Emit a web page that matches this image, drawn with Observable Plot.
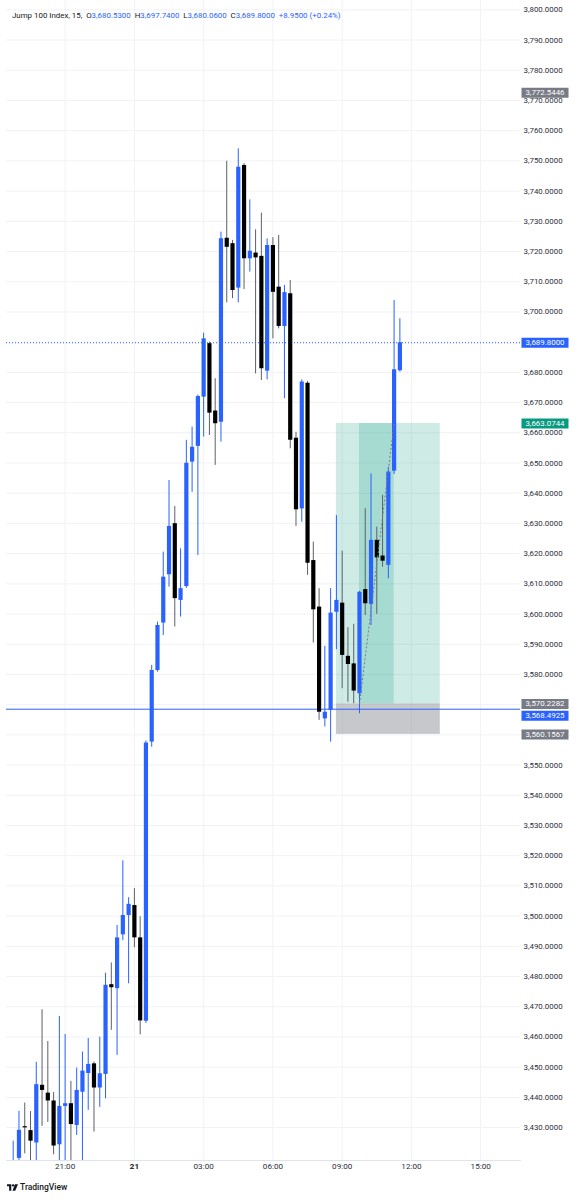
<!DOCTYPE html>
<html>
<head>
<meta charset="utf-8">
<script src="https://cdn.jsdelivr.net/npm/d3@7"></script>
<script src="https://cdn.jsdelivr.net/npm/@observablehq/plot@0.6"></script>
<style>
  body { margin: 0; background: #fff; font-family: Roboto, "Noto Sans", sans-serif; }
  #wrap { position: relative; width: 578px; height: 1200px; overflow: hidden; }
  #hdr { position: absolute; left: 12px; top: 11px; font: 7.9px Roboto, sans-serif; color: #131722; white-space: nowrap; letter-spacing: 0; }
  #hdr .v { color: #2962ff; }
  #logo { position: absolute; left: 7px; top: 1182px; font: 500 8.5px Roboto, sans-serif; color: #131722; display: flex; align-items: center; gap: 2px; }
</style>
</head>
<body>
<div id="wrap">
  <div id="chart"></div>
  <div id="hdr"></div>
  <div id="logo"><svg width="11" height="7" viewBox="0 0 36 22"><path d="M0 0h14v22H7V7H0z" fill="#131722"/><circle cx="20" cy="4" r="4" fill="#131722"/><path d="M26 0h10l-9 22h-9z" fill="#131722"/></svg><span>TradingView</span></div>
</div>
<script>
// ---- data ----
const symbolName = "Jump 100 Index";
const timeframe = "15";
const firstBar = "2024-01-20T18:45Z";   // 15-minute bars
const opens = [3412.0,3419.8,3430.3,3429.0,3424.9,3444.0,3441.4,3438.8,3424.3,3437.0,
  3437.9,3430.7,3441.7,3447.9,3451.1,3443.1,3447.6,3477.3,3476.0,3493.8,
  3500.2,3503.5,3492.8,3465.2,3557.6,3581.3,3597.0,3613.0,3629.9,3604.5,
  3609.1,3650.3,3655.5,3671.8,3689.5,3667.2,3663.5,3724.4,3722.6,3707.9,
  3748.5,3717.6,3719.5,3718.4,3680.4,3722.0,3708.2,3695.2,3706.0,3658.2,
  3634.8,3676.4,3617.7,3602.3,3565.3,3568.1,3600.6,3603.6,3586.0,3583.5,
  3573.6,3608.1,3603.2,3624.4,3619.2,3616.1,3647.3,3680.53];
const highs = [3425.5,3435.4,3438.1,3435.3,3451.6,3469.0,3458.5,3441.6,3466.8,3460.8,
  3445.3,3449.7,3455.0,3459.5,3451.7,3459.9,3481.1,3484.5,3496.9,3518.3,
  3506.1,3509.1,3499.8,3558.0,3583.0,3597.3,3620.5,3644.2,3635.6,3621.6,
  3657.5,3661.9,3672.5,3693.0,3690.0,3677.9,3726.4,3749.9,3723.7,3754.0,
  3749.1,3737.1,3727.2,3732.7,3724.2,3724.6,3725.3,3708.8,3710.4,3660.2,
  3677.5,3677.0,3623.8,3608.4,3589.3,3608.4,3632.6,3620.8,3595.5,3596.6,
  3607.5,3634.9,3646.4,3628.8,3639.3,3648.6,3703.8,3697.74];
const lows = [3405.0,3415.0,3421.3,3417.0,3416.0,3430.4,3431.7,3421.0,3416.0,3416.0,
  3416.0,3427.4,3416.0,3435.7,3428.5,3436.7,3439.5,3462.2,3453.9,3491.9,
  3477.6,3489.5,3460.7,3464.5,3555.9,3580.8,3592.9,3608.9,3595.7,3599.0,
  3608.5,3640.3,3619.4,3658.6,3659.1,3649.2,3656.9,3703.0,3704.4,3703.0,
  3707.4,3713.2,3679.5,3677.3,3677.5,3691.1,3694.4,3671.3,3654.7,3629.0,
  3630.4,3612.8,3590.4,3564.8,3562.6,3557.6,3588.2,3575.3,3570.8,3570.3,
  3567.0,3599.5,3596.2,3599.9,3615.5,3611.7,3646.2,3680.06];
const closes = [3418.0,3429.1,3429.9,3425.5,3444.2,3442.3,3438.8,3423.9,3437.0,3437.9,
  3431.0,3442.3,3448.7,3450.9,3443.1,3447.8,3477.1,3476.3,3492.8,3500.2,
  3503.9,3492.8,3465.3,3557.3,3581.3,3596.2,3612.2,3629.0,3605.1,3608.4,
  3649.9,3655.2,3672.0,3691.1,3666.5,3663.0,3724.2,3721.4,3707.1,3747.9,
  3717.6,3720.1,3717.9,3681.2,3722.0,3706.5,3695.2,3706.4,3657.5,3634.5,
  3676.8,3616.8,3601.4,3567.5,3567.5,3600.3,3604.5,3586.3,3583.3,3574.5,
  3607.2,3603.4,3624.4,3618.6,3617.5,3647.0,3680.85,3689.80];

const priceTicks = d3.range(3430, 3801, 10);
const timeTicks = ["2024-01-20T21:00Z","2024-01-21T00:00Z","2024-01-21T03:00Z","2024-01-21T06:00Z","2024-01-21T09:00Z","2024-01-21T12:00Z","2024-01-21T15:00Z"];
const timeLabels = ["21:00","21","03:00","06:00","09:00","12:00","15:00"];
const dayTickIndex = 1;

// long position drawing
const posStart = "2024-01-21T08:45Z", posEnd = "2024-01-21T13:15Z";
const posHitStart = "2024-01-21T09:45Z", posHitEnd = "2024-01-21T11:15Z";
const posEntry = 3570.2282, posTarget = 3663.0744, posStop = 3560.1567;
const hLinePrice = 3568.4925;
const markerPrice = 3772.5446;

// view window
const xDomain = ["2024-01-20T18:27:36Z", "2024-01-21T16:43:30Z"];
const yDomain = [3419.1, 3803.1];

// ---- derived ----
const start = new Date(firstBar);
const bars = opens.map((o, i) => ({
  t: d3.utcMinute.offset(start, 15 * i), o, h: highs[i], l: lows[i], c: closes[i], up: closes[i] >= o
}));
const last = bars[bars.length - 1], prev = bars[bars.length - 2];
const chg = last.c - prev.c, pct = chg / prev.c * 100;
const f4 = d3.format(",.4f");

const BLUE = "#2962ff", BLACK = "#000000", WICK_DN = "#5d606b";
const tags = [
  {p: markerPrice, col: "#787b86", dy: 0},
  {p: last.c, col: BLUE, dy: 0},
  {p: posTarget, col: "#089981", dy: 0},
  {p: posEntry, col: "#787b86", dy: 0},
  {p: hLinePrice, col: BLUE, dy: 6.5},
  {p: posStop, col: "#787b86", dy: 0}
];
const rectSymbol = { draw(ctx) { ctx.rect(-23.5, -5, 47, 10); } };

const D = s => new Date(s);
const tagMarks = [];
for (const dy of [0, 6.5]) {
  const sub = tags.filter(d => d.dy === dy);
  tagMarks.push(Plot.dot(sub, {y: "p", frameAnchor: "right", dx: 24.5, dy, r: 5, symbol: rectSymbol, fill: "col", stroke: null}));
  tagMarks.push(Plot.text(sub, {y: "p", text: d => f4(d.p), frameAnchor: "right", dx: 24.5, dy, fill: "#fff", fontSize: 7.9, textAnchor: "middle"}));
}

const chart = Plot.plot({
  width: 578, height: 1178,
  marginTop: 0, marginBottom: 18, marginLeft: 6, marginRight: 58,
  style: {fontFamily: "Roboto, sans-serif", background: "#fff", overflow: "visible"},
  x: {type: "utc", domain: xDomain.map(D), axis: null},
  y: {domain: yDomain, axis: null},
  marks: [
    Plot.gridY(priceTicks, {stroke: "#f1f2f6", strokeOpacity: 1}),
    Plot.gridX(timeTicks.map(D), {stroke: "#f1f2f6", strokeOpacity: 1}),
    Plot.frame({anchor: "bottom", stroke: "#e0e3eb"}),
    // position tool
    Plot.rect([0], {x1: D(posStart), x2: D(posEnd), y1: posEntry, y2: posTarget, fill: "#089981", fillOpacity: 0.2}),
    Plot.rect([0], {x1: D(posHitStart), x2: D(posHitEnd), y1: posEntry, y2: posTarget, fill: "#089981", fillOpacity: 0.2}),
    Plot.rect([0], {x1: D(posStart), x2: D(posEnd), y1: posStop, y2: posEntry, fill: "#787b86", fillOpacity: 0.42}),
    // horizontal lines
    Plot.ruleY([hLinePrice], {stroke: BLUE, strokeWidth: 1}),
    Plot.ruleY([last.c], {stroke: BLUE, strokeWidth: 1, strokeDasharray: "1,2"}),
    // candles
    Plot.ruleX(bars, {x: "t", y1: "l", y2: "h", stroke: d => d.up ? BLUE : WICK_DN, strokeWidth: 1, clip: true}),
    Plot.ruleX(bars, {x: "t", y1: "o", y2: "c", stroke: d => d.up ? BLUE : BLACK, strokeWidth: 4.2, clip: true}),
    Plot.link([0], {x1: D(posHitStart), y1: posEntry, x2: D(posHitEnd), y2: posTarget, stroke: "#787b86", strokeDasharray: "2,2", strokeWidth: 1}),
    // axes
    Plot.axisY(priceTicks, {anchor: "right", tickSize: 0, tickPadding: 3, tickFormat: f4, fontSize: 7.9, fill: "#2a2e39", textAnchor: "start"}),
    Plot.text(timeTicks.filter((_, i) => i !== dayTickIndex), {x: D, text: (d, i) => timeLabels.filter((_, j) => j !== dayTickIndex)[i], frameAnchor: "bottom", dy: 8, fontSize: 8.1, fill: "#2a2e39"}),
    Plot.text([timeTicks[dayTickIndex]], {x: D, text: [timeLabels[dayTickIndex]], frameAnchor: "bottom", dy: 8, fontSize: 8.1, fontWeight: "bold", fill: "#131722"}),
    ...tagMarks
  ]
});
document.getElementById("chart").appendChild(chart);

const fv = d3.format(",.4f");
document.getElementById("hdr").innerHTML =
  `${symbolName}, ${timeframe}, &nbsp;O<span class="v">${fv(last.o)}</span> &nbsp;H<span class="v">${fv(last.h)}</span> &nbsp;L<span class="v">${fv(last.l)}</span> &nbsp;C<span class="v">${fv(last.c)}</span> &nbsp;<span class="v">${chg >= 0 ? "+" : ""}${fv(chg)} (${chg >= 0 ? "+" : ""}${pct.toFixed(2)}%)</span>`;
</script>
</body>
</html>
